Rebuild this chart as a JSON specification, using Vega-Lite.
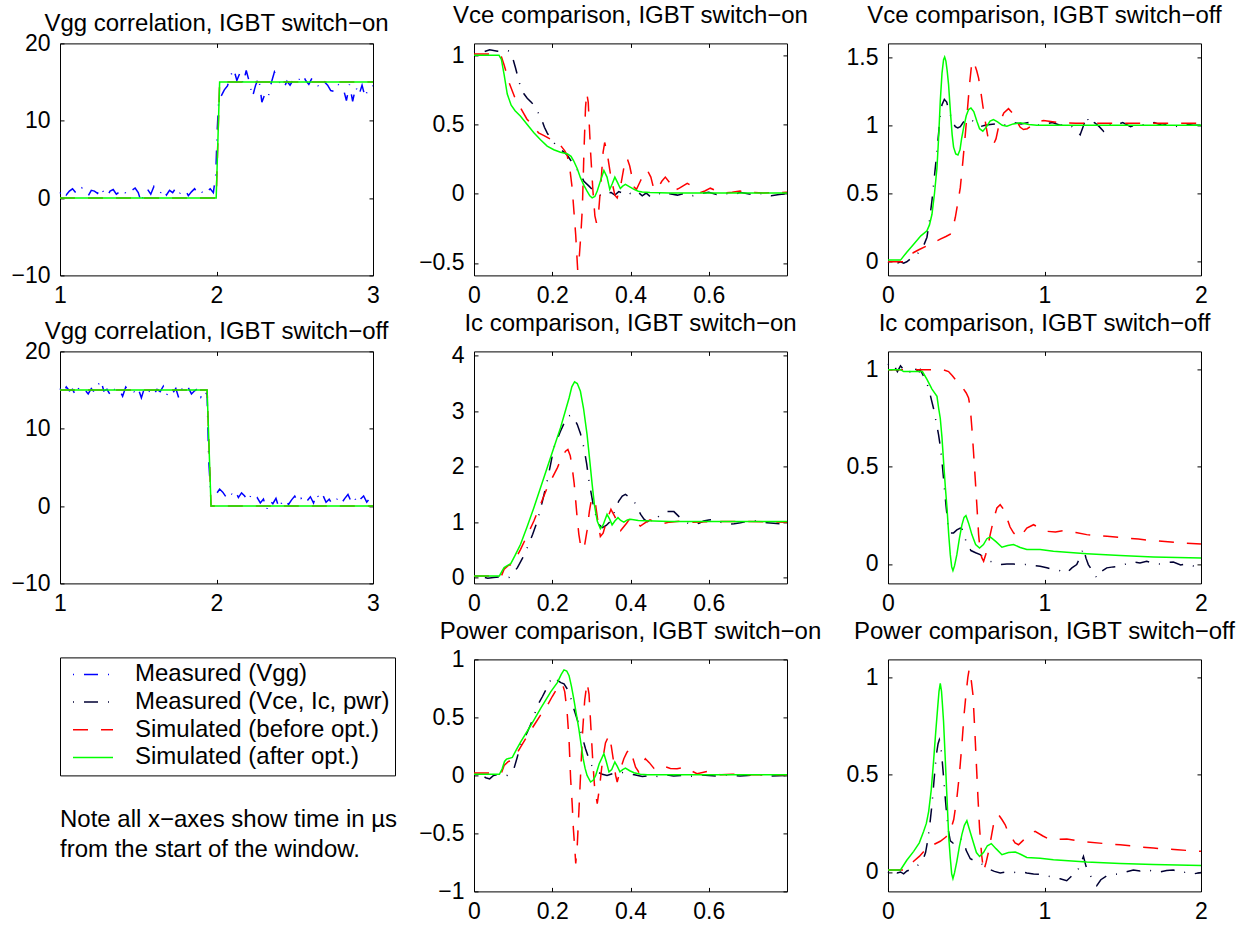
{
"$schema": "https://vega.github.io/schema/vega-lite/v6.json",
"background": "white",
"padding": {"left": 10, "top": 3.4, "right": 5, "bottom": 0},
"columns": 3,
"spacing": {"row": 76, "column": 101},
"bounds": "flush",
"config": {
  "font": "Liberation Sans",
  "view": {"stroke": "black", "strokeWidth": 1},
  "axis": {"grid": false, "domain": false, "ticks": true, "tickSize": -4, "tickColor": "black", "tickWidth": 1, "labelFont": "Liberation Sans", "labelFontSize": 23, "labelColor": "black", "labelFlush": false, "labelOverlap": false},
  "axisX": {"labelPadding": 13.5},
  "axisY": {"labelPadding": 14},
  "title": {"font": "Liberation Sans", "fontSize": 24, "fontWeight": "normal", "color": "black", "baseline": "alphabetic", "offset": 7, "anchor": "middle", "frame": "group"},
  "line": {"strokeWidth": 1.5}
},
"resolve": {"scale": {"color": "independent", "strokeDash": "independent"}},
"datasets": {
"vggOnM": [{"t":1.00,"v":0.6},{"t":1.02,"v":1.1},{"t":1.04,"v":0.4},{"t":1.06,"v":0.9},{"t":1.08,"v":1.2},{"t":1.10,"v":0.7},{"t":1.12,"v":0.5},{"t":1.14,"v":1.3},{"t":1.16,"v":0.8},{"t":1.18,"v":0.3},{"t":1.20,"v":1.0},{"t":1.22,"v":0.9},{"t":1.24,"v":0.6},{"t":1.26,"v":1.4},{"t":1.28,"v":0.7},{"t":1.30,"v":0.2},{"t":1.32,"v":0.9},{"t":1.34,"v":1.1},{"t":1.36,"v":0.5},{"t":1.38,"v":0.8},{"t":1.40,"v":1.2},{"t":1.42,"v":0.6},{"t":1.44,"v":0.4},{"t":1.46,"v":1.0},{"t":1.48,"v":1.3},{"t":1.50,"v":0.7},{"t":1.52,"v":-0.6},{"t":1.54,"v":0.9},{"t":1.56,"v":1.1},{"t":1.58,"v":0.5},{"t":1.60,"v":1.5},{"t":1.62,"v":0.8},{"t":1.64,"v":0.6},{"t":1.66,"v":1.2},{"t":1.68,"v":0.4},{"t":1.70,"v":1.0},{"t":1.72,"v":0.7},{"t":1.74,"v":1.3},{"t":1.76,"v":0.5},{"t":1.78,"v":0.9},{"t":1.80,"v":1.1},{"t":1.82,"v":0.3},{"t":1.84,"v":0.8},{"t":1.86,"v":1.2},{"t":1.88,"v":0.6},{"t":1.90,"v":1.0},{"t":1.92,"v":0.4},{"t":1.94,"v":0.9},{"t":1.96,"v":1.2},{"t":1.98,"v":0.7},{"t":1.995,"v":3},{"t":2.005,"v":9},{"t":2.015,"v":13},{"t":2.03,"v":13.2},{"t":2.05,"v":14.0},{"t":2.07,"v":14.5},{"t":2.09,"v":15.8},{"t":2.11,"v":16.7},{"t":2.13,"v":15.2},{"t":2.15,"v":16.2},{"t":2.17,"v":14.8},{"t":2.19,"v":16.5},{"t":2.21,"v":15.0},{"t":2.23,"v":13.1},{"t":2.25,"v":14.6},{"t":2.27,"v":15.6},{"t":2.29,"v":12.4},{"t":2.31,"v":13.5},{"t":2.33,"v":13.0},{"t":2.35,"v":14.9},{"t":2.37,"v":16.3},{"t":2.39,"v":15.4},{"t":2.41,"v":14.7},{"t":2.43,"v":14.2},{"t":2.45,"v":15.1},{"t":2.47,"v":14.6},{"t":2.49,"v":15.3},{"t":2.51,"v":14.9},{"t":2.53,"v":15.4},{"t":2.55,"v":16.0},{"t":2.57,"v":15.2},{"t":2.59,"v":14.7},{"t":2.61,"v":15.5},{"t":2.63,"v":15.3},{"t":2.65,"v":14.5},{"t":2.67,"v":14.2},{"t":2.69,"v":15.0},{"t":2.71,"v":14.6},{"t":2.73,"v":13.9},{"t":2.75,"v":13.8},{"t":2.77,"v":14.8},{"t":2.79,"v":14.5},{"t":2.81,"v":14.2},{"t":2.83,"v":12.6},{"t":2.85,"v":14.7},{"t":2.87,"v":12.5},{"t":2.89,"v":14.4},{"t":2.91,"v":13.3},{"t":2.93,"v":14.6},{"t":2.95,"v":13.0},{"t":2.97,"v":14.3},{"t":2.99,"v":14.6},{"t":3.0,"v":14.5}],
"vggOnA": [{"t":1,"v":0},{"t":1.998,"v":0},{"t":2.02,"v":15},{"t":3,"v":15}],
"vggOffM": [{"t":1.00,"v":15.2},{"t":1.02,"v":14.6},{"t":1.04,"v":15.4},{"t":1.06,"v":14.9},{"t":1.08,"v":15.1},{"t":1.10,"v":14.3},{"t":1.12,"v":15.3},{"t":1.14,"v":14.8},{"t":1.16,"v":15.0},{"t":1.18,"v":14.5},{"t":1.20,"v":15.2},{"t":1.22,"v":14.7},{"t":1.24,"v":15.5},{"t":1.26,"v":16.3},{"t":1.28,"v":14.9},{"t":1.30,"v":15.1},{"t":1.32,"v":14.4},{"t":1.34,"v":15.3},{"t":1.36,"v":14.8},{"t":1.38,"v":15.0},{"t":1.40,"v":14.2},{"t":1.42,"v":15.4},{"t":1.44,"v":14.9},{"t":1.46,"v":15.1},{"t":1.48,"v":14.6},{"t":1.50,"v":15.2},{"t":1.52,"v":14.0},{"t":1.54,"v":15.3},{"t":1.56,"v":14.7},{"t":1.58,"v":15.0},{"t":1.60,"v":14.4},{"t":1.62,"v":15.1},{"t":1.64,"v":14.8},{"t":1.66,"v":15.5},{"t":1.68,"v":14.3},{"t":1.70,"v":15.0},{"t":1.72,"v":14.6},{"t":1.74,"v":15.2},{"t":1.76,"v":13.9},{"t":1.78,"v":15.1},{"t":1.80,"v":14.7},{"t":1.82,"v":15.3},{"t":1.84,"v":14.5},{"t":1.86,"v":14.9},{"t":1.88,"v":15.2},{"t":1.90,"v":14.1},{"t":1.92,"v":15.0},{"t":1.94,"v":14.4},{"t":1.95,"v":6},{"t":1.96,"v":2.5},{"t":1.98,"v":2.0},{"t":2.00,"v":1.6},{"t":2.02,"v":2.2},{"t":2.04,"v":1.8},{"t":2.06,"v":1.2},{"t":2.08,"v":1.9},{"t":2.10,"v":1.5},{"t":2.12,"v":2.0},{"t":2.14,"v":1.1},{"t":2.16,"v":1.7},{"t":2.18,"v":1.3},{"t":2.20,"v":0.6},{"t":2.22,"v":1.4},{"t":2.24,"v":0.8},{"t":2.26,"v":1.1},{"t":2.28,"v":0.4},{"t":2.30,"v":0.9},{"t":2.32,"v":-0.5},{"t":2.34,"v":0.7},{"t":2.36,"v":0.3},{"t":2.38,"v":1.0},{"t":2.40,"v":-0.3},{"t":2.42,"v":0.6},{"t":2.44,"v":0.9},{"t":2.46,"v":0.2},{"t":2.48,"v":0.8},{"t":2.50,"v":1.3},{"t":2.52,"v":0.5},{"t":2.54,"v":1.0},{"t":2.56,"v":0.3},{"t":2.58,"v":0.7},{"t":2.60,"v":1.2},{"t":2.62,"v":0.4},{"t":2.64,"v":1.6},{"t":2.66,"v":0.8},{"t":2.68,"v":1.4},{"t":2.70,"v":0.5},{"t":2.72,"v":0.9},{"t":2.74,"v":0.2},{"t":2.76,"v":0.7},{"t":2.78,"v":1.1},{"t":2.80,"v":0.4},{"t":2.82,"v":1.0},{"t":2.84,"v":1.5},{"t":2.86,"v":0.6},{"t":2.88,"v":1.2},{"t":2.90,"v":0.3},{"t":2.92,"v":0.9},{"t":2.94,"v":1.3},{"t":2.96,"v":0.5},{"t":2.98,"v":1.0},{"t":3.00,"v":0.4}],
"vggOffA": [{"t":1,"v":15},{"t":1.94,"v":15},{"t":1.965,"v":0},{"t":3,"v":0}],
"vceOnM": [{"t":0,"v":1.03},{"t":0.02,"v":1.02},{"t":0.04,"v":1.04},{"t":0.06,"v":1.03},{"t":0.08,"v":1.04},{"t":0.09,"v":1.03},{"t":0.1,"v":0.97},{"t":0.106,"v":0.91},{"t":0.119,"v":0.77},{"t":0.128,"v":0.72},{"t":0.136,"v":0.69},{"t":0.147,"v":0.66},{"t":0.157,"v":0.62},{"t":0.165,"v":0.58},{"t":0.17,"v":0.56},{"t":0.18,"v":0.48},{"t":0.187,"v":0.44},{"t":0.195,"v":0.4},{"t":0.204,"v":0.37},{"t":0.212,"v":0.34},{"t":0.221,"v":0.32},{"t":0.23,"v":0.3},{"t":0.238,"v":0.28},{"t":0.25,"v":0.23},{"t":0.26,"v":0.19},{"t":0.272,"v":0.14},{"t":0.281,"v":0.09},{"t":0.294,"v":0.055},{"t":0.306,"v":0.02},{"t":0.315,"v":0},{"t":0.323,"v":-0.01},{"t":0.332,"v":0.005},{"t":0.34,"v":-0.005},{"t":0.35,"v":0.01},{"t":0.36,"v":-0.01},{"t":0.37,"v":0.015},{"t":0.38,"v":0.005},{"t":0.39,"v":0.02},{"t":0.40,"v":0},{"t":0.41,"v":-0.01},{"t":0.42,"v":0.01},{"t":0.43,"v":-0.015},{"t":0.44,"v":0.005},{"t":0.45,"v":-0.02},{"t":0.46,"v":-0.01},{"t":0.47,"v":0.005},{"t":0.48,"v":-0.005},{"t":0.49,"v":0.01},{"t":0.5,"v":0},{"t":0.52,"v":-0.01},{"t":0.54,"v":0.005},{"t":0.56,"v":-0.015},{"t":0.58,"v":0},{"t":0.6,"v":0.01},{"t":0.62,"v":-0.005},{"t":0.64,"v":0.005},{"t":0.66,"v":-0.01},{"t":0.68,"v":0.01},{"t":0.70,"v":0},{"t":0.72,"v":-0.01},{"t":0.74,"v":0.005},{"t":0.76,"v":-0.015},{"t":0.78,"v":-0.005},{"t":0.8,"v":0}],
"vceOnB": [{"t":0,"v":1.01},{"t":0.06,"v":1.01},{"t":0.07,"v":0.99},{"t":0.077,"v":0.93},{"t":0.09,"v":0.8},{"t":0.105,"v":0.69},{"t":0.119,"v":0.62},{"t":0.135,"v":0.54},{"t":0.153,"v":0.48},{"t":0.165,"v":0.44},{"t":0.179,"v":0.42},{"t":0.204,"v":0.38},{"t":0.221,"v":0.35},{"t":0.232,"v":0.31},{"t":0.238,"v":0.28},{"t":0.245,"v":0.18},{"t":0.251,"v":0.04},{"t":0.256,"v":-0.15},{"t":0.26,"v":-0.3},{"t":0.265,"v":-0.55},{"t":0.268,"v":-0.5},{"t":0.273,"v":-0.3},{"t":0.277,"v":-0.1},{"t":0.281,"v":0.3},{"t":0.285,"v":0.62},{"t":0.288,"v":0.73},{"t":0.292,"v":0.66},{"t":0.298,"v":0.3},{"t":0.304,"v":0.02},{"t":0.309,"v":-0.16},{"t":0.313,"v":-0.21},{"t":0.318,"v":-0.15},{"t":0.325,"v":0.1},{"t":0.33,"v":0.3},{"t":0.334,"v":0.37},{"t":0.34,"v":0.3},{"t":0.35,"v":0.12},{"t":0.36,"v":-0.01},{"t":0.366,"v":-0.03},{"t":0.375,"v":0.06},{"t":0.385,"v":0.22},{"t":0.391,"v":0.26},{"t":0.398,"v":0.2},{"t":0.409,"v":0.05},{"t":0.415,"v":0.03},{"t":0.425,"v":0.09},{"t":0.435,"v":0.15},{"t":0.443,"v":0.17},{"t":0.452,"v":0.12},{"t":0.46,"v":0.03},{"t":0.47,"v":0.04},{"t":0.48,"v":0.09},{"t":0.489,"v":0.12},{"t":0.5,"v":0.08},{"t":0.51,"v":0.02},{"t":0.525,"v":0.04},{"t":0.545,"v":0.075},{"t":0.56,"v":0.05},{"t":0.579,"v":0.01},{"t":0.59,"v":0.02},{"t":0.604,"v":0.04},{"t":0.62,"v":0.02},{"t":0.64,"v":0.005},{"t":0.66,"v":0.01},{"t":0.68,"v":0.02},{"t":0.7,"v":0.01},{"t":0.74,"v":0.005},{"t":0.8,"v":0.01}],
"vceOnA": [{"t":0,"v":1},{"t":0.064,"v":1},{"t":0.07,"v":0.97},{"t":0.077,"v":0.86},{"t":0.085,"v":0.72},{"t":0.095,"v":0.64},{"t":0.105,"v":0.6},{"t":0.119,"v":0.56},{"t":0.136,"v":0.5},{"t":0.153,"v":0.44},{"t":0.17,"v":0.39},{"t":0.187,"v":0.344},{"t":0.204,"v":0.318},{"t":0.221,"v":0.3},{"t":0.238,"v":0.289},{"t":0.248,"v":0.27},{"t":0.255,"v":0.236},{"t":0.264,"v":0.18},{"t":0.272,"v":0.116},{"t":0.281,"v":0.06},{"t":0.289,"v":0.019},{"t":0.296,"v":-0.015},{"t":0.302,"v":-0.03},{"t":0.309,"v":-0.02},{"t":0.315,"v":0.019},{"t":0.324,"v":0.1},{"t":0.332,"v":0.168},{"t":0.34,"v":0.12},{"t":0.347,"v":0.031},{"t":0.353,"v":0.07},{"t":0.36,"v":0.12},{"t":0.367,"v":0.08},{"t":0.374,"v":0.038},{"t":0.38,"v":0.055},{"t":0.387,"v":0.067},{"t":0.398,"v":0.05},{"t":0.409,"v":0.031},{"t":0.42,"v":0.018},{"t":0.43,"v":0.012},{"t":0.45,"v":0.008},{"t":0.5,"v":0.006},{"t":0.6,"v":0.005},{"t":0.8,"v":0.005}],
"vceOffM": [{"t":0,"v":-0.01},{"t":0.02,"v":0.0},{"t":0.04,"v":-0.02},{"t":0.06,"v":-0.01},{"t":0.08,"v":0.0},{"t":0.1,"v":-0.01},{"t":0.12,"v":0.0},{"t":0.143,"v":0.02},{"t":0.16,"v":0.03},{"t":0.18,"v":0.05},{"t":0.206,"v":0.08},{"t":0.225,"v":0.11},{"t":0.249,"v":0.18},{"t":0.265,"v":0.3},{"t":0.281,"v":0.45},{"t":0.297,"v":0.63},{"t":0.313,"v":0.81},{"t":0.324,"v":0.95},{"t":0.334,"v":1.08},{"t":0.345,"v":1.15},{"t":0.36,"v":1.19},{"t":0.375,"v":1.17},{"t":0.39,"v":1.1},{"t":0.398,"v":1.08},{"t":0.415,"v":1.02},{"t":0.43,"v":0.99},{"t":0.446,"v":0.98},{"t":0.462,"v":0.99},{"t":0.48,"v":1.02},{"t":0.504,"v":1.05},{"t":0.525,"v":1.04},{"t":0.547,"v":1.03},{"t":0.568,"v":1.01},{"t":0.589,"v":0.99},{"t":0.62,"v":1.0},{"t":0.653,"v":1.006},{"t":0.69,"v":1.01},{"t":0.717,"v":1.018},{"t":0.75,"v":1.0},{"t":0.8,"v":1.02},{"t":0.85,"v":1.01},{"t":0.9,"v":1.02},{"t":0.95,"v":1.0},{"t":1.0,"v":1.01},{"t":1.05,"v":1.02},{"t":1.1,"v":1.0},{"t":1.15,"v":1.01},{"t":1.2,"v":0.97},{"t":1.228,"v":0.93},{"t":1.25,"v":1.0},{"t":1.27,"v":1.066},{"t":1.29,"v":1.0},{"t":1.32,"v":1.02},{"t":1.35,"v":0.99},{"t":1.377,"v":0.957},{"t":1.4,"v":1.01},{"t":1.45,"v":1.0},{"t":1.5,"v":1.02},{"t":1.55,"v":0.99},{"t":1.6,"v":1.01},{"t":1.65,"v":1.0},{"t":1.7,"v":1.02},{"t":1.75,"v":1.0},{"t":1.8,"v":1.01},{"t":1.85,"v":0.99},{"t":1.9,"v":1.01},{"t":1.95,"v":1.0},{"t":2.0,"v":1.0}],
"vceOffB": [{"t":0,"v":0.0},{"t":0.1,"v":0.0},{"t":0.13,"v":0.04},{"t":0.164,"v":0.068},{"t":0.2,"v":0.09},{"t":0.249,"v":0.117},{"t":0.29,"v":0.14},{"t":0.334,"v":0.166},{"t":0.37,"v":0.185},{"t":0.398,"v":0.202},{"t":0.415,"v":0.25},{"t":0.43,"v":0.324},{"t":0.446,"v":0.43},{"t":0.462,"v":0.543},{"t":0.478,"v":0.73},{"t":0.494,"v":0.933},{"t":0.508,"v":1.12},{"t":0.521,"v":1.3},{"t":0.532,"v":1.42},{"t":0.543,"v":1.473},{"t":0.555,"v":1.44},{"t":0.567,"v":1.4},{"t":0.579,"v":1.346},{"t":0.595,"v":1.23},{"t":0.611,"v":1.103},{"t":0.627,"v":0.99},{"t":0.643,"v":0.884},{"t":0.66,"v":0.86},{"t":0.674,"v":0.86},{"t":0.69,"v":0.9},{"t":0.705,"v":0.98},{"t":0.717,"v":1.03},{"t":0.74,"v":1.09},{"t":0.77,"v":1.122},{"t":0.795,"v":1.09},{"t":0.823,"v":1.03},{"t":0.845,"v":0.985},{"t":0.866,"v":0.969},{"t":0.89,"v":0.975},{"t":0.93,"v":1.006},{"t":0.96,"v":1.025},{"t":0.994,"v":1.035},{"t":1.04,"v":1.028},{"t":1.1,"v":1.018},{"t":1.2,"v":1.015},{"t":1.4,"v":1.015},{"t":1.6,"v":1.015},{"t":1.8,"v":1.015},{"t":2.0,"v":1.015}],
"vceOffA": [{"t":0,"v":0.012},{"t":0.08,"v":0.012},{"t":0.12,"v":0.07},{"t":0.164,"v":0.129},{"t":0.21,"v":0.19},{"t":0.249,"v":0.226},{"t":0.265,"v":0.27},{"t":0.281,"v":0.348},{"t":0.297,"v":0.5},{"t":0.313,"v":0.689},{"t":0.323,"v":0.9},{"t":0.334,"v":1.176},{"t":0.345,"v":1.38},{"t":0.355,"v":1.48},{"t":0.362,"v":1.5},{"t":0.37,"v":1.47},{"t":0.378,"v":1.4},{"t":0.387,"v":1.298},{"t":0.4,"v":1.08},{"t":0.41,"v":0.93},{"t":0.419,"v":0.84},{"t":0.433,"v":0.79},{"t":0.447,"v":0.782},{"t":0.46,"v":0.82},{"t":0.47,"v":0.9},{"t":0.483,"v":0.981},{"t":0.5,"v":1.07},{"t":0.515,"v":1.115},{"t":0.53,"v":1.127},{"t":0.548,"v":1.1},{"t":0.568,"v":1.03},{"t":0.585,"v":0.975},{"t":0.606,"v":0.957},{"t":0.63,"v":0.99},{"t":0.652,"v":1.03},{"t":0.674,"v":1.042},{"t":0.7,"v":1.025},{"t":0.73,"v":1.0},{"t":0.76,"v":0.993},{"t":0.8,"v":1.01},{"t":0.845,"v":1.018},{"t":0.9,"v":1.005},{"t":0.951,"v":1.0},{"t":1.2,"v":1.0},{"t":2.0,"v":1.0}],
"icOnM": [{"t":0,"v":0.03},{"t":0.02,"v":0.01},{"t":0.035,"v":-0.01},{"t":0.05,"v":0.0},{"t":0.065,"v":0.01},{"t":0.08,"v":0.0},{"t":0.089,"v":0.0},{"t":0.1,"v":0.08},{"t":0.111,"v":0.18},{"t":0.124,"v":0.35},{"t":0.136,"v":0.54},{"t":0.15,"v":0.78},{"t":0.162,"v":1.02},{"t":0.175,"v":1.38},{"t":0.187,"v":1.74},{"t":0.196,"v":2.05},{"t":0.204,"v":2.34},{"t":0.213,"v":2.5},{"t":0.221,"v":2.64},{"t":0.23,"v":2.78},{"t":0.238,"v":2.9},{"t":0.247,"v":2.93},{"t":0.255,"v":2.88},{"t":0.264,"v":2.76},{"t":0.272,"v":2.6},{"t":0.281,"v":2.34},{"t":0.288,"v":2.05},{"t":0.294,"v":1.74},{"t":0.3,"v":1.5},{"t":0.306,"v":1.26},{"t":0.313,"v":1.08},{"t":0.319,"v":0.96},{"t":0.328,"v":0.9},{"t":0.338,"v":0.94},{"t":0.349,"v":1.02},{"t":0.36,"v":1.2},{"t":0.37,"v":1.38},{"t":0.379,"v":1.47},{"t":0.387,"v":1.5},{"t":0.398,"v":1.45},{"t":0.409,"v":1.38},{"t":0.418,"v":1.25},{"t":0.426,"v":1.14},{"t":0.435,"v":1.05},{"t":0.443,"v":1.01},{"t":0.455,"v":1.04},{"t":0.468,"v":1.08},{"t":0.48,"v":1.15},{"t":0.494,"v":1.19},{"t":0.511,"v":1.19},{"t":0.524,"v":1.1},{"t":0.536,"v":1.02},{"t":0.55,"v":0.97},{"t":0.562,"v":0.95},{"t":0.575,"v":0.98},{"t":0.587,"v":1.02},{"t":0.6,"v":1.04},{"t":0.613,"v":1.05},{"t":0.63,"v":1.0},{"t":0.647,"v":0.96},{"t":0.665,"v":0.97},{"t":0.681,"v":0.99},{"t":0.7,"v":1.02},{"t":0.715,"v":1.03},{"t":0.732,"v":1.0},{"t":0.749,"v":0.99},{"t":0.766,"v":0.98},{"t":0.783,"v":0.97},{"t":0.8,"v":1.0}],
"icOnB": [{"t":0,"v":0.03},{"t":0.07,"v":0.03},{"t":0.077,"v":0.15},{"t":0.088,"v":0.22},{"t":0.098,"v":0.24},{"t":0.108,"v":0.36},{"t":0.119,"v":0.51},{"t":0.136,"v":0.76},{"t":0.153,"v":1.02},{"t":0.17,"v":1.32},{"t":0.187,"v":1.62},{"t":0.2,"v":1.8},{"t":0.213,"v":1.98},{"t":0.225,"v":2.18},{"t":0.234,"v":2.28},{"t":0.24,"v":2.31},{"t":0.246,"v":2.2},{"t":0.251,"v":1.98},{"t":0.256,"v":1.7},{"t":0.26,"v":1.38},{"t":0.264,"v":1.05},{"t":0.268,"v":0.78},{"t":0.272,"v":0.6},{"t":0.277,"v":0.5},{"t":0.282,"v":0.55},{"t":0.289,"v":0.85},{"t":0.295,"v":1.2},{"t":0.3,"v":1.4},{"t":0.305,"v":1.44},{"t":0.311,"v":1.3},{"t":0.317,"v":1.0},{"t":0.323,"v":0.74},{"t":0.33,"v":0.8},{"t":0.34,"v":1.05},{"t":0.35,"v":1.23},{"t":0.36,"v":1.1},{"t":0.375,"v":0.85},{"t":0.39,"v":0.98},{"t":0.4,"v":1.08},{"t":0.412,"v":1.0},{"t":0.425,"v":0.93},{"t":0.438,"v":0.99},{"t":0.45,"v":1.04},{"t":0.465,"v":1.0},{"t":0.48,"v":0.97},{"t":0.5,"v":1.0},{"t":0.53,"v":1.02},{"t":0.56,"v":1.0},{"t":0.6,"v":1.01},{"t":0.7,"v":1.01},{"t":0.8,"v":1.0}],
"icOnA": [{"t":0,"v":0.03},{"t":0.065,"v":0.03},{"t":0.072,"v":0.12},{"t":0.077,"v":0.18},{"t":0.086,"v":0.22},{"t":0.094,"v":0.25},{"t":0.105,"v":0.4},{"t":0.119,"v":0.6},{"t":0.136,"v":0.92},{"t":0.153,"v":1.26},{"t":0.17,"v":1.62},{"t":0.187,"v":1.98},{"t":0.204,"v":2.34},{"t":0.221,"v":2.7},{"t":0.232,"v":2.97},{"t":0.243,"v":3.24},{"t":0.25,"v":3.44},{"t":0.257,"v":3.53},{"t":0.264,"v":3.5},{"t":0.272,"v":3.36},{"t":0.28,"v":3.05},{"t":0.289,"v":2.58},{"t":0.296,"v":2.1},{"t":0.302,"v":1.68},{"t":0.308,"v":1.3},{"t":0.315,"v":1.02},{"t":0.323,"v":0.88},{"t":0.33,"v":0.95},{"t":0.34,"v":1.14},{"t":0.347,"v":1.05},{"t":0.353,"v":0.95},{"t":0.36,"v":1.02},{"t":0.368,"v":1.08},{"t":0.375,"v":1.03},{"t":0.383,"v":1.0},{"t":0.392,"v":1.04},{"t":0.4,"v":1.05},{"t":0.42,"v":1.03},{"t":0.46,"v":1.02},{"t":0.5,"v":1.01},{"t":0.8,"v":1.01}],
"icOffM": [{"t":0,"v":1.03},{"t":0.02,"v":1.01},{"t":0.04,"v":1.02},{"t":0.06,"v":0.99},{"t":0.08,"v":1.02},{"t":0.1,"v":1.0},{"t":0.12,"v":1.01},{"t":0.14,"v":0.99},{"t":0.16,"v":1.02},{"t":0.18,"v":1.0},{"t":0.2,"v":0.99},{"t":0.206,"v":1.0},{"t":0.225,"v":0.97},{"t":0.249,"v":0.93},{"t":0.27,"v":0.87},{"t":0.291,"v":0.8},{"t":0.308,"v":0.73},{"t":0.323,"v":0.666},{"t":0.335,"v":0.6},{"t":0.345,"v":0.528},{"t":0.356,"v":0.43},{"t":0.366,"v":0.34},{"t":0.377,"v":0.25},{"t":0.387,"v":0.168},{"t":0.4,"v":0.16},{"t":0.419,"v":0.16},{"t":0.44,"v":0.175},{"t":0.462,"v":0.185},{"t":0.472,"v":0.18},{"t":0.483,"v":0.168},{"t":0.5,"v":0.11},{"t":0.53,"v":0.069},{"t":0.56,"v":0.058},{"t":0.589,"v":0.048},{"t":0.62,"v":0.03},{"t":0.653,"v":0.014},{"t":0.68,"v":0.005},{"t":0.717,"v":-0.003},{"t":0.76,"v":0.0},{"t":0.802,"v":0.0},{"t":0.84,"v":-0.005},{"t":0.887,"v":-0.002},{"t":0.93,"v":-0.008},{"t":0.972,"v":-0.012},{"t":1.015,"v":-0.02},{"t":1.057,"v":-0.029},{"t":1.1,"v":-0.035},{"t":1.142,"v":-0.046},{"t":1.175,"v":-0.02},{"t":1.206,"v":-0.003},{"t":1.23,"v":0.04},{"t":1.249,"v":0.082},{"t":1.265,"v":0.03},{"t":1.28,"v":-0.003},{"t":1.31,"v":-0.04},{"t":1.334,"v":-0.072},{"t":1.36,"v":-0.04},{"t":1.398,"v":-0.02},{"t":1.44,"v":-0.015},{"t":1.483,"v":-0.012},{"t":1.52,"v":0.0},{"t":1.568,"v":0.01},{"t":1.61,"v":0.005},{"t":1.653,"v":0.014},{"t":1.7,"v":0.002},{"t":1.738,"v":0.0},{"t":1.78,"v":0.008},{"t":1.823,"v":0.01},{"t":1.87,"v":-0.005},{"t":1.909,"v":0.0},{"t":1.95,"v":-0.01},{"t":2.0,"v":-0.003}],
"icOffB": [{"t":0,"v":1.0},{"t":0.35,"v":1.0},{"t":0.387,"v":0.99},{"t":0.41,"v":0.97},{"t":0.43,"v":0.95},{"t":0.46,"v":0.92},{"t":0.483,"v":0.9},{"t":0.5,"v":0.88},{"t":0.515,"v":0.854},{"t":0.526,"v":0.8},{"t":0.536,"v":0.7},{"t":0.547,"v":0.57},{"t":0.557,"v":0.443},{"t":0.568,"v":0.3},{"t":0.579,"v":0.151},{"t":0.59,"v":0.06},{"t":0.6,"v":0.031},{"t":0.611,"v":0.014},{"t":0.625,"v":0.05},{"t":0.64,"v":0.1},{"t":0.653,"v":0.151},{"t":0.675,"v":0.23},{"t":0.696,"v":0.288},{"t":0.717,"v":0.305},{"t":0.74,"v":0.28},{"t":0.76,"v":0.237},{"t":0.78,"v":0.19},{"t":0.802,"v":0.16},{"t":0.834,"v":0.137},{"t":0.86,"v":0.155},{"t":0.887,"v":0.185},{"t":0.93,"v":0.202},{"t":0.97,"v":0.185},{"t":1.015,"v":0.168},{"t":1.07,"v":0.165},{"t":1.121,"v":0.171},{"t":1.2,"v":0.162},{"t":1.27,"v":0.151},{"t":1.4,"v":0.143},{"t":1.483,"v":0.137},{"t":1.6,"v":0.128},{"t":1.696,"v":0.12},{"t":1.85,"v":0.11},{"t":2.0,"v":0.103}],
"icOffA": [{"t":0,"v":1.0},{"t":0.08,"v":1.0},{"t":0.1,"v":0.99},{"t":0.15,"v":0.99},{"t":0.22,"v":0.99},{"t":0.249,"v":0.95},{"t":0.281,"v":0.9},{"t":0.313,"v":0.863},{"t":0.324,"v":0.8},{"t":0.334,"v":0.75},{"t":0.345,"v":0.65},{"t":0.355,"v":0.528},{"t":0.366,"v":0.4},{"t":0.377,"v":0.288},{"t":0.388,"v":0.15},{"t":0.398,"v":0.048},{"t":0.407,"v":-0.015},{"t":0.415,"v":-0.034},{"t":0.425,"v":-0.01},{"t":0.44,"v":0.048},{"t":0.456,"v":0.13},{"t":0.472,"v":0.2},{"t":0.486,"v":0.24},{"t":0.498,"v":0.249},{"t":0.515,"v":0.21},{"t":0.536,"v":0.151},{"t":0.56,"v":0.1},{"t":0.585,"v":0.082},{"t":0.61,"v":0.1},{"t":0.632,"v":0.13},{"t":0.653,"v":0.139},{"t":0.69,"v":0.115},{"t":0.728,"v":0.086},{"t":0.765,"v":0.095},{"t":0.802,"v":0.1},{"t":0.845,"v":0.085},{"t":0.887,"v":0.074},{"t":0.972,"v":0.074},{"t":1.057,"v":0.065},{"t":1.27,"v":0.053},{"t":1.483,"v":0.043},{"t":1.696,"v":0.036},{"t":2.0,"v":0.031}],
"pwrOnM": [{"t":0,"v":0.01},{"t":0.02,"v":0.0},{"t":0.03,"v":-0.02},{"t":0.04,"v":-0.03},{"t":0.05,"v":0.0},{"t":0.065,"v":0.01},{"t":0.085,"v":0.0},{"t":0.095,"v":0.03},{"t":0.102,"v":0.057},{"t":0.11,"v":0.15},{"t":0.119,"v":0.26},{"t":0.136,"v":0.37},{"t":0.15,"v":0.48},{"t":0.162,"v":0.6},{"t":0.175,"v":0.68},{"t":0.187,"v":0.76},{"t":0.2,"v":0.85},{"t":0.213,"v":0.82},{"t":0.222,"v":0.8},{"t":0.23,"v":0.79},{"t":0.243,"v":0.72},{"t":0.255,"v":0.575},{"t":0.264,"v":0.48},{"t":0.272,"v":0.39},{"t":0.285,"v":0.23},{"t":0.298,"v":0.1},{"t":0.306,"v":0.06},{"t":0.315,"v":0.03},{"t":0.328,"v":0.01},{"t":0.34,"v":0.0},{"t":0.36,"v":0.02},{"t":0.374,"v":0.03},{"t":0.39,"v":0.015},{"t":0.41,"v":0.005},{"t":0.43,"v":-0.01},{"t":0.45,"v":0.0},{"t":0.47,"v":-0.01},{"t":0.49,"v":0.005},{"t":0.51,"v":-0.005},{"t":0.53,"v":0.0},{"t":0.55,"v":-0.01},{"t":0.57,"v":0.005},{"t":0.6,"v":0.0},{"t":0.62,"v":-0.005},{"t":0.65,"v":0.005},{"t":0.68,"v":-0.005},{"t":0.7,"v":0.0},{"t":0.73,"v":0.005},{"t":0.76,"v":-0.005},{"t":0.8,"v":0.0}],
"pwrOnB": [{"t":0,"v":0.02},{"t":0.07,"v":0.02},{"t":0.077,"v":0.086},{"t":0.088,"v":0.12},{"t":0.098,"v":0.13},{"t":0.108,"v":0.18},{"t":0.119,"v":0.244},{"t":0.136,"v":0.34},{"t":0.153,"v":0.43},{"t":0.17,"v":0.52},{"t":0.187,"v":0.6},{"t":0.2,"v":0.68},{"t":0.209,"v":0.73},{"t":0.218,"v":0.77},{"t":0.226,"v":0.79},{"t":0.232,"v":0.72},{"t":0.238,"v":0.546},{"t":0.243,"v":0.3},{"t":0.247,"v":-0.03},{"t":0.251,"v":-0.25},{"t":0.254,"v":-0.46},{"t":0.258,"v":-0.65},{"t":0.26,"v":-0.76},{"t":0.264,"v":-0.6},{"t":0.268,"v":-0.316},{"t":0.273,"v":0.05},{"t":0.278,"v":0.4},{"t":0.283,"v":0.65},{"t":0.289,"v":0.8},{"t":0.294,"v":0.7},{"t":0.299,"v":0.4},{"t":0.304,"v":0.1},{"t":0.308,"v":-0.09},{"t":0.315,"v":-0.244},{"t":0.321,"v":-0.1},{"t":0.328,"v":0.115},{"t":0.336,"v":0.28},{"t":0.345,"v":0.345},{"t":0.351,"v":0.25},{"t":0.357,"v":0.115},{"t":0.362,"v":0.0},{"t":0.366,"v":-0.057},{"t":0.374,"v":0.05},{"t":0.383,"v":0.144},{"t":0.391,"v":0.2},{"t":0.398,"v":0.23},{"t":0.406,"v":0.15},{"t":0.413,"v":0.07},{"t":0.421,"v":0.03},{"t":0.43,"v":0.09},{"t":0.438,"v":0.144},{"t":0.448,"v":0.11},{"t":0.46,"v":0.06},{"t":0.472,"v":0.052},{"t":0.485,"v":0.08},{"t":0.502,"v":0.06},{"t":0.519,"v":0.057},{"t":0.54,"v":0.07},{"t":0.555,"v":0.04},{"t":0.57,"v":0.015},{"t":0.596,"v":0.034},{"t":0.63,"v":0.005},{"t":0.66,"v":0.01},{"t":0.715,"v":0.005},{"t":0.8,"v":0.005}],
"pwrOnA": [{"t":0,"v":0.01},{"t":0.065,"v":0.01},{"t":0.072,"v":0.057},{"t":0.078,"v":0.12},{"t":0.083,"v":0.14},{"t":0.098,"v":0.155},{"t":0.108,"v":0.22},{"t":0.119,"v":0.287},{"t":0.145,"v":0.43},{"t":0.17,"v":0.575},{"t":0.196,"v":0.72},{"t":0.213,"v":0.8},{"t":0.223,"v":0.87},{"t":0.23,"v":0.91},{"t":0.237,"v":0.9},{"t":0.243,"v":0.86},{"t":0.249,"v":0.77},{"t":0.255,"v":0.66},{"t":0.262,"v":0.52},{"t":0.268,"v":0.4},{"t":0.274,"v":0.26},{"t":0.279,"v":0.144},{"t":0.284,"v":0.06},{"t":0.289,"v":0.0},{"t":0.298,"v":-0.057},{"t":0.305,"v":-0.04},{"t":0.311,"v":0.0},{"t":0.32,"v":0.1},{"t":0.332,"v":0.187},{"t":0.338,"v":0.12},{"t":0.345,"v":0.03},{"t":0.352,"v":0.05},{"t":0.36,"v":0.115},{"t":0.366,"v":0.08},{"t":0.373,"v":0.03},{"t":0.38,"v":0.05},{"t":0.387,"v":0.063},{"t":0.398,"v":0.04},{"t":0.409,"v":0.023},{"t":0.425,"v":0.01},{"t":0.443,"v":0.006},{"t":0.5,"v":0.005},{"t":0.8,"v":0.005}],
"pwrOffM": [{"t":0,"v":0.0},{"t":0.02,"v":-0.01},{"t":0.04,"v":0.005},{"t":0.06,"v":-0.005},{"t":0.08,"v":0.0},{"t":0.1,"v":-0.01},{"t":0.121,"v":0.005},{"t":0.15,"v":0.015},{"t":0.185,"v":0.03},{"t":0.21,"v":0.05},{"t":0.228,"v":0.072},{"t":0.24,"v":0.1},{"t":0.253,"v":0.158},{"t":0.268,"v":0.25},{"t":0.281,"v":0.346},{"t":0.295,"v":0.48},{"t":0.309,"v":0.603},{"t":0.32,"v":0.66},{"t":0.328,"v":0.68},{"t":0.337,"v":0.65},{"t":0.345,"v":0.586},{"t":0.356,"v":0.48},{"t":0.366,"v":0.38},{"t":0.377,"v":0.28},{"t":0.387,"v":0.209},{"t":0.398,"v":0.16},{"t":0.415,"v":0.149},{"t":0.435,"v":0.17},{"t":0.451,"v":0.178},{"t":0.465,"v":0.17},{"t":0.483,"v":0.158},{"t":0.5,"v":0.11},{"t":0.526,"v":0.068},{"t":0.56,"v":0.055},{"t":0.589,"v":0.046},{"t":0.62,"v":0.03},{"t":0.653,"v":0.012},{"t":0.68,"v":0.003},{"t":0.717,"v":-0.005},{"t":0.76,"v":0.0},{"t":0.8,"v":-0.003},{"t":0.84,"v":0.002},{"t":0.887,"v":-0.005},{"t":0.93,"v":-0.01},{"t":0.972,"v":-0.012},{"t":1.015,"v":-0.02},{"t":1.057,"v":-0.028},{"t":1.1,"v":-0.035},{"t":1.142,"v":-0.045},{"t":1.175,"v":-0.02},{"t":1.206,"v":-0.003},{"t":1.23,"v":0.04},{"t":1.249,"v":0.08},{"t":1.265,"v":0.03},{"t":1.28,"v":-0.003},{"t":1.31,"v":-0.04},{"t":1.334,"v":-0.07},{"t":1.36,"v":-0.04},{"t":1.398,"v":-0.02},{"t":1.44,"v":-0.012},{"t":1.483,"v":-0.01},{"t":1.52,"v":0.0},{"t":1.568,"v":0.01},{"t":1.61,"v":0.005},{"t":1.653,"v":0.012},{"t":1.7,"v":0.002},{"t":1.738,"v":0.0},{"t":1.78,"v":0.008},{"t":1.823,"v":0.01},{"t":1.87,"v":-0.005},{"t":1.909,"v":0.0},{"t":1.95,"v":-0.01},{"t":2.0,"v":-0.003}],
"pwrOffB": [{"t":0,"v":0.01},{"t":0.1,"v":0.01},{"t":0.13,"v":0.03},{"t":0.164,"v":0.055},{"t":0.2,"v":0.08},{"t":0.249,"v":0.123},{"t":0.29,"v":0.14},{"t":0.334,"v":0.158},{"t":0.37,"v":0.18},{"t":0.398,"v":0.209},{"t":0.42,"v":0.27},{"t":0.44,"v":0.38},{"t":0.456,"v":0.5},{"t":0.472,"v":0.654},{"t":0.485,"v":0.8},{"t":0.498,"v":0.911},{"t":0.51,"v":1.0},{"t":0.519,"v":1.045},{"t":0.53,"v":1.0},{"t":0.543,"v":0.911},{"t":0.554,"v":0.74},{"t":0.564,"v":0.568},{"t":0.575,"v":0.38},{"t":0.585,"v":0.226},{"t":0.598,"v":0.09},{"t":0.611,"v":0.003},{"t":0.627,"v":0.05},{"t":0.643,"v":0.106},{"t":0.66,"v":0.18},{"t":0.674,"v":0.243},{"t":0.69,"v":0.28},{"t":0.706,"v":0.295},{"t":0.728,"v":0.27},{"t":0.749,"v":0.243},{"t":0.77,"v":0.2},{"t":0.791,"v":0.175},{"t":0.812,"v":0.15},{"t":0.834,"v":0.14},{"t":0.86,"v":0.16},{"t":0.887,"v":0.183},{"t":0.915,"v":0.2},{"t":0.94,"v":0.209},{"t":0.99,"v":0.185},{"t":1.036,"v":0.166},{"t":1.09,"v":0.168},{"t":1.143,"v":0.17},{"t":1.2,"v":0.162},{"t":1.27,"v":0.154},{"t":1.4,"v":0.145},{"t":1.483,"v":0.14},{"t":1.6,"v":0.13},{"t":1.696,"v":0.123},{"t":1.85,"v":0.114},{"t":2.0,"v":0.106}],
"pwrOffA": [{"t":0,"v":0.01},{"t":0.08,"v":0.01},{"t":0.12,"v":0.06},{"t":0.164,"v":0.106},{"t":0.2,"v":0.15},{"t":0.228,"v":0.209},{"t":0.245,"v":0.25},{"t":0.26,"v":0.312},{"t":0.276,"v":0.42},{"t":0.291,"v":0.568},{"t":0.305,"v":0.72},{"t":0.317,"v":0.842},{"t":0.326,"v":0.93},{"t":0.334,"v":0.97},{"t":0.342,"v":0.93},{"t":0.348,"v":0.86},{"t":0.355,"v":0.774},{"t":0.366,"v":0.58},{"t":0.377,"v":0.38},{"t":0.388,"v":0.18},{"t":0.398,"v":0.072},{"t":0.407,"v":-0.01},{"t":0.415,"v":-0.034},{"t":0.425,"v":-0.005},{"t":0.44,"v":0.055},{"t":0.456,"v":0.13},{"t":0.472,"v":0.192},{"t":0.488,"v":0.24},{"t":0.504,"v":0.264},{"t":0.52,"v":0.22},{"t":0.543,"v":0.158},{"t":0.565,"v":0.1},{"t":0.585,"v":0.08},{"t":0.61,"v":0.1},{"t":0.635,"v":0.135},{"t":0.66,"v":0.146},{"t":0.69,"v":0.12},{"t":0.728,"v":0.089},{"t":0.77,"v":0.1},{"t":0.813,"v":0.103},{"t":0.85,"v":0.09},{"t":0.887,"v":0.075},{"t":0.972,"v":0.07},{"t":1.057,"v":0.063},{"t":1.27,"v":0.051},{"t":1.483,"v":0.043},{"t":1.696,"v":0.038},{"t":2.0,"v":0.033}]
},
"concat": [
{"title": {"text": "Vgg correlation, IGBT switch−on", "offset": -3.5}, "width": 313, "height": 232,
 "layer": [
  {"encoding": {
    "x": {"field": "t", "type": "quantitative", "title": null, "scale": {"domain": [1, 3], "nice": false, "zero": false}, "axis": {"values": [1, 2, 3], "format": "~f"}},
    "y": {"field": "v", "type": "quantitative", "title": null, "scale": {"domain": [-10, 20], "nice": false, "zero": false}, "axis": {"values": [-10, 0, 10, 20], "format": "~f"}}},
   "layer": [
    {"data": {"name": "vggOnM"}, "mark": {"type": "line", "color": "#0000ff", "strokeDash": [1, 10, 14, 10]}},
    {"data": {"name": "vggOnA"}, "mark": {"type": "line", "color": "#ff0000", "strokeDash": [15, 13]}},
    {"data": {"name": "vggOnA"}, "mark": {"type": "line", "color": "#00ff00"}}
   ]},
  {"data": {"values": []}, "mark": "line", "encoding": {
    "x": {"field": "t", "type": "quantitative", "title": null, "scale": {"domain": [1, 3], "nice": false, "zero": false}, "axis": {"values": [1, 2, 3], "orient": "top", "labels": false}},
    "y": {"field": "v", "type": "quantitative", "title": null, "scale": {"domain": [-10, 20], "nice": false, "zero": false}, "axis": {"values": [-10, 0, 10, 20], "orient": "right", "labels": false}}}}
 ],
 "resolve": {"axis": {"x": "independent", "y": "independent"}}},
{"title": {"text": "Vce comparison, IGBT switch−on", "offset": 14.6}, "width": 313, "height": 232,
 "layer": [
  {"encoding": {
    "x": {"field": "t", "type": "quantitative", "title": null, "scale": {"domain": [0, 0.8], "nice": false, "zero": false}, "axis": {"values": [0, 0.2, 0.4, 0.6], "format": "~f"}},
    "y": {"field": "v", "type": "quantitative", "title": null, "scale": {"domain": [-0.59, 1.086], "nice": false, "zero": false}, "axis": {"values": [-0.5, 0, 0.5, 1], "format": "~f"}}},
   "layer": [
    {"data": {"name": "vceOnM"}, "mark": {"type": "line", "color": "#000033", "strokeDash": [1, 10, 14, 10]}},
    {"data": {"name": "vceOnB"}, "mark": {"type": "line", "color": "#ff0000", "strokeDash": [15, 13]}},
    {"data": {"name": "vceOnA"}, "mark": {"type": "line", "color": "#00ff00"}}
   ]},
  {"data": {"values": []}, "mark": "line", "encoding": {
    "x": {"field": "t", "type": "quantitative", "title": null, "scale": {"domain": [0, 0.8], "nice": false, "zero": false}, "axis": {"values": [0, 0.2, 0.4, 0.6], "orient": "top", "labels": false}},
    "y": {"field": "v", "type": "quantitative", "title": null, "scale": {"domain": [-0.59, 1.086], "nice": false, "zero": false}, "axis": {"values": [-0.5, 0, 0.5, 1], "orient": "right", "labels": false}}}}
 ],
 "resolve": {"axis": {"x": "independent", "y": "independent"}}},
{"title": {"text": "Vce comparison, IGBT switch−off", "offset": 14.6}, "width": 313, "height": 232,
 "layer": [
  {"encoding": {
    "x": {"field": "t", "type": "quantitative", "title": null, "scale": {"domain": [0, 2], "nice": false, "zero": false}, "axis": {"values": [0, 1, 2], "format": "~f"}},
    "y": {"field": "v", "type": "quantitative", "title": null, "scale": {"domain": [-0.1, 1.6], "nice": false, "zero": false}, "axis": {"values": [0, 0.5, 1, 1.5], "format": "~f"}}},
   "layer": [
    {"data": {"name": "vceOffM"}, "mark": {"type": "line", "color": "#000033", "strokeDash": [1, 10, 14, 10]}},
    {"data": {"name": "vceOffB"}, "mark": {"type": "line", "color": "#ff0000", "strokeDash": [15, 13]}},
    {"data": {"name": "vceOffA"}, "mark": {"type": "line", "color": "#00ff00"}}
   ]},
  {"data": {"values": []}, "mark": "line", "encoding": {
    "x": {"field": "t", "type": "quantitative", "title": null, "scale": {"domain": [0, 2], "nice": false, "zero": false}, "axis": {"values": [0, 1, 2], "orient": "top", "labels": false}},
    "y": {"field": "v", "type": "quantitative", "title": null, "scale": {"domain": [-0.1, 1.6], "nice": false, "zero": false}, "axis": {"values": [0, 0.5, 1, 1.5], "orient": "right", "labels": false}}}}
 ],
 "resolve": {"axis": {"x": "independent", "y": "independent"}}},
{"title": {"text": "Vgg correlation, IGBT switch−off", "offset": -3.5}, "width": 313, "height": 232,
 "layer": [
  {"encoding": {
    "x": {"field": "t", "type": "quantitative", "title": null, "scale": {"domain": [1, 3], "nice": false, "zero": false}, "axis": {"values": [1, 2, 3], "format": "~f"}},
    "y": {"field": "v", "type": "quantitative", "title": null, "scale": {"domain": [-10, 20], "nice": false, "zero": false}, "axis": {"values": [-10, 0, 10, 20], "format": "~f"}}},
   "layer": [
    {"data": {"name": "vggOffM"}, "mark": {"type": "line", "color": "#0000ff", "strokeDash": [1, 10, 14, 10]}},
    {"data": {"name": "vggOffA"}, "mark": {"type": "line", "color": "#ff0000", "strokeDash": [15, 13]}},
    {"data": {"name": "vggOffA"}, "mark": {"type": "line", "color": "#00ff00"}}
   ]},
  {"data": {"values": []}, "mark": "line", "encoding": {
    "x": {"field": "t", "type": "quantitative", "title": null, "scale": {"domain": [1, 3], "nice": false, "zero": false}, "axis": {"values": [1, 2, 3], "orient": "top", "labels": false}},
    "y": {"field": "v", "type": "quantitative", "title": null, "scale": {"domain": [-10, 20], "nice": false, "zero": false}, "axis": {"values": [-10, 0, 10, 20], "orient": "right", "labels": false}}}}
 ],
 "resolve": {"axis": {"x": "independent", "y": "independent"}}},
{"title": {"text": "Ic comparison, IGBT switch−on", "offset": 9.1}, "width": 313, "height": 232,
 "layer": [
  {"encoding": {
    "x": {"field": "t", "type": "quantitative", "title": null, "scale": {"domain": [0, 0.8], "nice": false, "zero": false}, "axis": {"values": [0, 0.2, 0.4, 0.6], "format": "~f"}},
    "y": {"field": "v", "type": "quantitative", "title": null, "scale": {"domain": [-0.105, 4.08], "nice": false, "zero": false}, "axis": {"values": [0, 1, 2, 3, 4], "format": "~f"}}},
   "layer": [
    {"data": {"name": "icOnM"}, "mark": {"type": "line", "color": "#000033", "strokeDash": [1, 10, 14, 10]}},
    {"data": {"name": "icOnB"}, "mark": {"type": "line", "color": "#ff0000", "strokeDash": [15, 13]}},
    {"data": {"name": "icOnA"}, "mark": {"type": "line", "color": "#00ff00"}}
   ]},
  {"data": {"values": []}, "mark": "line", "encoding": {
    "x": {"field": "t", "type": "quantitative", "title": null, "scale": {"domain": [0, 0.8], "nice": false, "zero": false}, "axis": {"values": [0, 0.2, 0.4, 0.6], "orient": "top", "labels": false}},
    "y": {"field": "v", "type": "quantitative", "title": null, "scale": {"domain": [-0.105, 4.08], "nice": false, "zero": false}, "axis": {"values": [0, 1, 2, 3, 4], "orient": "right", "labels": false}}}}
 ],
 "resolve": {"axis": {"x": "independent", "y": "independent"}}},
{"title": {"text": "Ic comparison, IGBT switch−off", "offset": 15}, "width": 313, "height": 232,
 "layer": [
  {"encoding": {
    "x": {"field": "t", "type": "quantitative", "title": null, "scale": {"domain": [0, 2], "nice": false, "zero": false}, "axis": {"values": [0, 1, 2], "format": "~f"}},
    "y": {"field": "v", "type": "quantitative", "title": null, "scale": {"domain": [-0.1, 1.094], "nice": false, "zero": false}, "axis": {"values": [0, 0.5, 1], "format": "~f"}}},
   "layer": [
    {"data": {"name": "icOffM"}, "mark": {"type": "line", "color": "#000033", "strokeDash": [1, 10, 14, 10]}},
    {"data": {"name": "icOffB"}, "mark": {"type": "line", "color": "#ff0000", "strokeDash": [15, 13]}},
    {"data": {"name": "icOffA"}, "mark": {"type": "line", "color": "#00ff00"}}
   ]},
  {"data": {"values": []}, "mark": "line", "encoding": {
    "x": {"field": "t", "type": "quantitative", "title": null, "scale": {"domain": [0, 2], "nice": false, "zero": false}, "axis": {"values": [0, 1, 2], "orient": "top", "labels": false}},
    "y": {"field": "v", "type": "quantitative", "title": null, "scale": {"domain": [-0.1, 1.094], "nice": false, "zero": false}, "axis": {"values": [0, 0.5, 1], "orient": "right", "labels": false}}}}
 ],
 "resolve": {"axis": {"x": "independent", "y": "independent"}}},
{"width": 313, "height": 114,
 "view": {"stroke": null},
 "title": {"text": ["Note all x−axes show time in µs", "from the start of the window."], "orient": "bottom", "anchor": "start", "offset": 32, "lineHeight": 30, "frame": "group"},
 "data": {"values": []},
 "mark": "line",
 "encoding": {
   "x": {"field": "t", "type": "quantitative", "axis": null},
   "y": {"field": "v", "type": "quantitative", "axis": null},
   "color": {"field": "s", "type": "nominal", "title": null,
     "scale": {"domain": ["Measured (Vgg)", "Measured (Vce, Ic, pwr)", "Simulated (before opt.)", "Simulated (after opt.)"], "range": ["#0000ff", "#000033", "#ff0000", "#00ff00"]},
     "legend": {"orient": "none", "legendX": 0, "legendY": -2, "strokeColor": "black", "fillColor": "white", "padding": 5, "symbolType": "stroke", "symbolSize": 1600, "symbolStrokeWidth": 1.5, "clipHeight": 24, "rowPadding": 3.7, "symbolOffset": 7, "labelOffset": 21, "labelFontSize": 24, "labelFont": "Liberation Sans", "labelColor": "black", "labelLimit": 0}},
   "strokeDash": {"field": "s", "type": "nominal", "title": null,
     "scale": {"domain": ["Measured (Vgg)", "Measured (Vce, Ic, pwr)", "Simulated (before opt.)", "Simulated (after opt.)"], "range": [[1, 10, 14, 10], [1, 10, 14, 10], [15, 13], [1, 0]]},
     "legend": {"orient": "none", "legendX": 0, "legendY": -2, "strokeColor": "black", "fillColor": "white", "padding": 5, "symbolType": "stroke", "symbolSize": 1600, "symbolStrokeWidth": 1.5, "clipHeight": 24, "rowPadding": 3.7, "symbolOffset": 7, "labelOffset": 21, "labelFontSize": 24, "labelFont": "Liberation Sans", "labelColor": "black", "labelLimit": 0}}
 }},
{"title": {"text": "Power comparison, IGBT switch−on", "offset": 4}, "width": 313, "height": 232,
 "layer": [
  {"encoding": {
    "x": {"field": "t", "type": "quantitative", "title": null, "scale": {"domain": [0, 0.8], "nice": false, "zero": false}, "axis": {"values": [0, 0.2, 0.4, 0.6], "format": "~f"}},
    "y": {"field": "v", "type": "quantitative", "title": null, "scale": {"domain": [-1, 1], "nice": false, "zero": false}, "axis": {"values": [-1, -0.5, 0, 0.5, 1], "format": "~f"}}},
   "layer": [
    {"data": {"name": "pwrOnM"}, "mark": {"type": "line", "color": "#000033", "strokeDash": [1, 10, 14, 10]}},
    {"data": {"name": "pwrOnB"}, "mark": {"type": "line", "color": "#ff0000", "strokeDash": [15, 13]}},
    {"data": {"name": "pwrOnA"}, "mark": {"type": "line", "color": "#00ff00"}}
   ]},
  {"data": {"values": []}, "mark": "line", "encoding": {
    "x": {"field": "t", "type": "quantitative", "title": null, "scale": {"domain": [0, 0.8], "nice": false, "zero": false}, "axis": {"values": [0, 0.2, 0.4, 0.6], "orient": "top", "labels": false}},
    "y": {"field": "v", "type": "quantitative", "title": null, "scale": {"domain": [-1, 1], "nice": false, "zero": false}, "axis": {"values": [-1, -0.5, 0, 0.5, 1], "orient": "right", "labels": false}}}}
 ],
 "resolve": {"axis": {"x": "independent", "y": "independent"}}},
{"title": {"text": "Power comparison, IGBT switch−off", "offset": 15}, "width": 313, "height": 232,
 "layer": [
  {"encoding": {
    "x": {"field": "t", "type": "quantitative", "title": null, "scale": {"domain": [0, 2], "nice": false, "zero": false}, "axis": {"values": [0, 1, 2], "format": "~f"}},
    "y": {"field": "v", "type": "quantitative", "title": null, "scale": {"domain": [-0.1, 1.094], "nice": false, "zero": false}, "axis": {"values": [0, 0.5, 1], "format": "~f"}}},
   "layer": [
    {"data": {"name": "pwrOffM"}, "mark": {"type": "line", "color": "#000033", "strokeDash": [1, 10, 14, 10]}},
    {"data": {"name": "pwrOffB"}, "mark": {"type": "line", "color": "#ff0000", "strokeDash": [15, 13]}},
    {"data": {"name": "pwrOffA"}, "mark": {"type": "line", "color": "#00ff00"}}
   ]},
  {"data": {"values": []}, "mark": "line", "encoding": {
    "x": {"field": "t", "type": "quantitative", "title": null, "scale": {"domain": [0, 2], "nice": false, "zero": false}, "axis": {"values": [0, 1, 2], "orient": "top", "labels": false}},
    "y": {"field": "v", "type": "quantitative", "title": null, "scale": {"domain": [-0.1, 1.094], "nice": false, "zero": false}, "axis": {"values": [0, 0.5, 1], "orient": "right", "labels": false}}}}
 ],
 "resolve": {"axis": {"x": "independent", "y": "independent"}}}
]
}
